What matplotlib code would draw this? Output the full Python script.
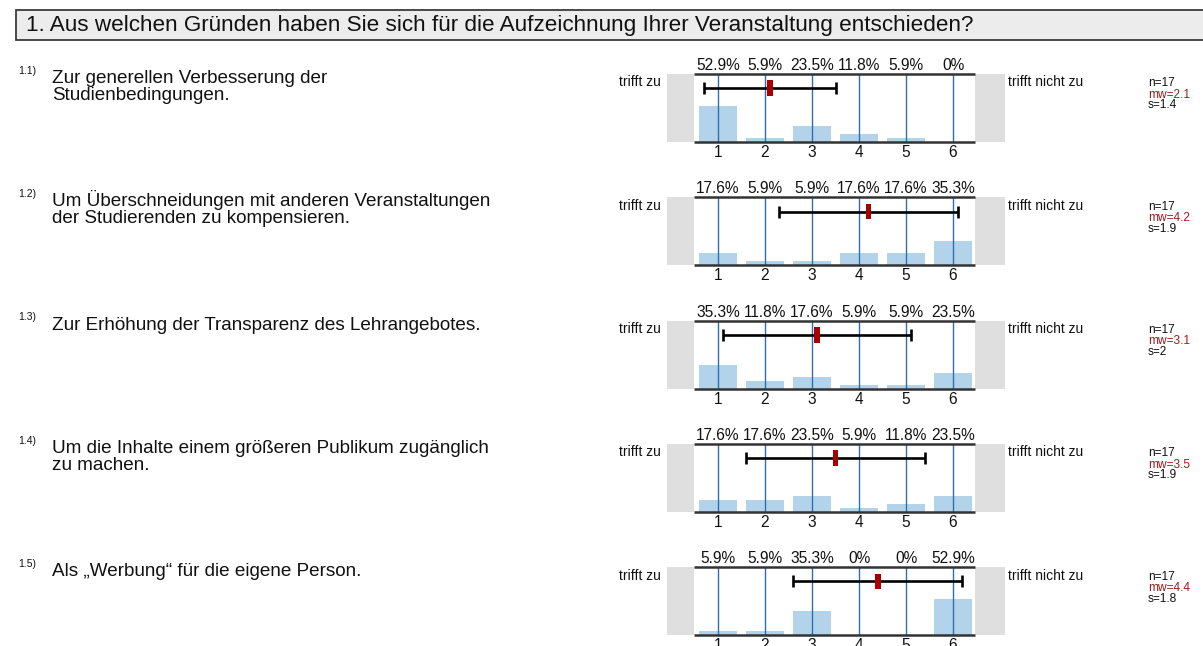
import matplotlib
matplotlib.use("Agg")
import matplotlib.pyplot as plt
from matplotlib.patches import Rectangle

plt.rcParams['font.family'] = ['Liberation Sans', 'DejaVu Sans']

W, H = 1203, 646

title = "1. Aus welchen Gründen haben Sie sich für die Aufzeichnung Ihrer Veranstaltung entschieden?"
item_ids = ["1.1)", "1.2)", "1.3)", "1.4)", "1.5)"]
questions = [
    ["Zur generellen Verbesserung der", "Studienbedingungen."],
    ["Um Überschneidungen mit anderen Veranstaltungen", "der Studierenden zu kompensieren."],
    ["Zur Erhöhung der Transparenz des Lehrangebotes."],
    ["Um die Inhalte einem größeren Publikum zugänglich", "zu machen."],
    ["Als „Werbung“ für die eigene Person."],
]
categories = [1, 2, 3, 4, 5, 6]
pct_1 = [52.9, 5.9, 23.5, 11.8, 5.9, 0]
pct_2 = [17.6, 5.9, 5.9, 17.6, 17.6, 35.3]
pct_3 = [35.3, 11.8, 17.6, 5.9, 5.9, 23.5]
pct_4 = [17.6, 17.6, 23.5, 5.9, 11.8, 23.5]
pct_5 = [5.9, 5.9, 35.3, 0, 0, 52.9]
pct_labels_1 = ["52.9%", "5.9%", "23.5%", "11.8%", "5.9%", "0%"]
pct_labels_2 = ["17.6%", "5.9%", "5.9%", "17.6%", "17.6%", "35.3%"]
pct_labels_3 = ["35.3%", "11.8%", "17.6%", "5.9%", "5.9%", "23.5%"]
pct_labels_4 = ["17.6%", "17.6%", "23.5%", "5.9%", "11.8%", "23.5%"]
pct_labels_5 = ["5.9%", "5.9%", "35.3%", "0%", "0%", "52.9%"]
n_vals = [17, 17, 17, 17, 17]
mw_vals = [2.1, 4.2, 3.1, 3.5, 4.4]
s_vals = [1.4, 1.9, 2, 1.9, 1.8]
left_label = "trifft zu"
right_label = "trifft nicht zu"

pcts = [pct_1, pct_2, pct_3, pct_4, pct_5]
pct_labels = [pct_labels_1, pct_labels_2, pct_labels_3, pct_labels_4, pct_labels_5]

fig = plt.figure(figsize=(W / 100, H / 100), dpi=100)
fig.patch.set_facecolor('white')

def fx(x):
    return x / W

def fy(y):
    return 1 - y / H

# Title box
bg = fig.add_axes([0, 0, 1, 1], zorder=-5)
bg.set_xlim(0, W)
bg.set_ylim(H, 0)
bg.axis('off')
bg.add_patch(Rectangle((16, 10), W + 10, 30, facecolor='#ececec', edgecolor='#3a3a3a', lw=1.3))
bg.text(26, 25.5, title, fontsize=16.2, va='center', ha='left', color='#111111')

BAR_C = '#b3d3ea'
LINE_C = '#2e6fb0'
GRAY_C = '#dfdfdf'
RED_C = '#a80000'

panel_tops = [74, 197.3, 320.6, 444, 567.2]
ph = 68
ax_left = 667
ax_w = 338
px2y = 100.0 / ph

for i in range(5):
    top = panel_tops[i]
    ax = fig.add_axes([fx(ax_left), fy(top + ph), fx(ax_w), ph / H])
    ax.set_xlim(-0.085, 7.106)
    ax.set_ylim(0, 100)
    ax.axis('off')
    ax.axvspan(-0.085, 0.5, ymin=-0.01, ymax=1.0, color=GRAY_C, lw=0, zorder=0)
    ax.axvspan(6.46, 7.106, ymin=-0.01, ymax=1.0, color=GRAY_C, lw=0, zorder=0)
    ax.bar(categories, pcts[i], width=0.8, color=BAR_C, zorder=1)
    ax.vlines(categories, 0, 100, color=LINE_C, lw=1.0, zorder=2)
    ax.hlines([0, 100], 0.5, 6.46, color='#333333', lw=1.8, zorder=3, clip_on=False)
    m, s = mw_vals[i], s_vals[i]
    ax.errorbar([m], [79], xerr=[s], fmt='none', ecolor='black', elinewidth=1.9,
                capsize=4, capthick=1.9, zorder=4)
    ax.add_patch(Rectangle((m - 0.06, 79 - 11.5), 0.12, 23, facecolor=RED_C,
                           edgecolor='none', zorder=5))
    for c, lab in zip(categories, pct_labels[i]):
        ax.text(c, 100 + 4 * px2y, lab, ha='center', va='baseline', fontsize=11.2,
                color='#111111', clip_on=False)
        ax.text(c, -3 * px2y, str(c), ha='center', va='top', fontsize=11.2,
                color='#111111', clip_on=False)

    fig.text(fx(661), fy(top + 12.5), left_label, ha='right', va='baseline', fontsize=10, color='#111111')
    fig.text(fx(1008), fy(top + 12.5), right_label, ha='left', va='baseline', fontsize=10, color='#111111')
    fig.text(fx(1148), fy(top + 12.5), f"n={n_vals[i]}", ha='left', va='baseline', fontsize=8.6, color='#111111')
    fig.text(fx(1148), fy(top + 23.5), f"mw={mw_vals[i]:g}", ha='left', va='baseline', fontsize=8.6, color='#9b1c1c')
    fig.text(fx(1148), fy(top + 34.5), f"s={s_vals[i]:g}", ha='left', va='baseline', fontsize=8.6, color='#111111')

    fig.text(fx(18), fy(top - 0.5), item_ids[i], ha='left', va='baseline', fontsize=7.5, color='#111111')
    for j, line in enumerate(questions[i]):
        fig.text(fx(52), fy(top + 9 + j * 16.5), line, ha='left', va='baseline', fontsize=13.6,
                 color='#111111')

fig.savefig('out.png', dpi=100, facecolor='white')
